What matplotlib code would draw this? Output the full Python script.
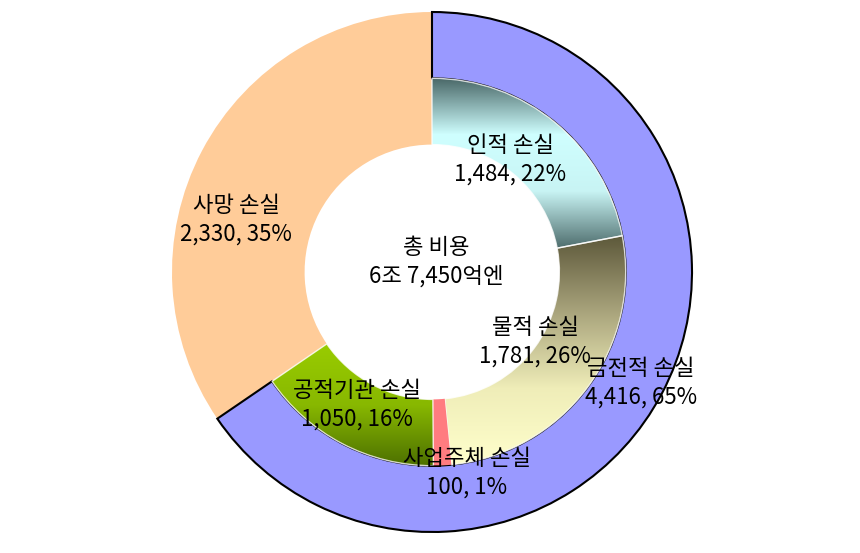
import numpy as np
import matplotlib.pyplot as plt
from matplotlib.colors import to_rgb

plt.rcParams['font.family'] = ['Noto Sans CJK KR', 'DejaVu Sans']

# outer ring
outer_labels = ['금전적 손실', '사망 손실']
outer_values = [4416, 2330]
outer_pcts = [65, 35]
# inner ring (breakdown of 금전적 손실)
inner_labels = ['인적 손실', '물적 손실', '사업주체 손실', '공적기관 손실']
inner_values = [1484, 1781, 100, 1050]
inner_pcts = [22, 26, 1, 16]
center_text = '총 비용\n6조 7,450억엔'

W, H = 860, 553
cx, cy, R = 432, 272, 260

fig = plt.figure(figsize=(W / 100, H / 100), dpi=100)
ax = fig.add_axes([0, 0, 1, 1])

r_hole = 0.49
r_mid = 0.745

# outer pie
wo, _ = ax.pie(outer_values, colors=['#9999FF', '#FFCC99'], startangle=90,
               counterclock=False, radius=1, frame=True,
               wedgeprops=dict(width=1 - r_hole, linewidth=0))
wo[0].set_width(1 - r_mid)
wo[0].set_edgecolor('black')
wo[0].set_linewidth(1.5)
wo[0].set_zorder(2)
wo[1].set_zorder(1)

# inner pie (last slice is empty space under 사망 손실)
wi, _ = ax.pie(inner_values + [outer_values[1]], startangle=90,
               counterclock=False, radius=r_mid, frame=True,
               colors=['none'] * 5,
               wedgeprops=dict(width=r_mid - r_hole, linewidth=0))
wi[4].set_visible(False)

# gradient fills (top -> bottom stops)
grads = [
    ['#4a6868', '#cfffff', '#c8f4f4', '#4f6e6e'],
    ['#5c583a', '#a9a47c', '#efedb8', '#ffffcc'],
    None,
    ['#99cc00', '#88b800', '#4d7000'],
]
for w, g in zip(wi[:4], grads):
    w.set_zorder(3)
    if g is None:
        w.set_facecolor('#ff7c80')
        w.set_edgecolor('none')
        continue
    w.set_edgecolor((1, 1, 1, 0.8))
    w.set_linewidth(1.0)
    th1, th2 = np.deg2rad(w.theta1), np.deg2rad(w.theta2)
    ths = np.linspace(th1, th2, 200)
    xo, yo = r_mid * np.cos(ths), r_mid * np.sin(ths)
    xi, yi = r_hole * np.cos(ths[::-1]), r_hole * np.sin(ths[::-1])
    xs = np.concatenate([xo, xi])
    ys = np.concatenate([yo, yi])
    n = 256
    stops = np.array([to_rgb(c) for c in g])
    pos = np.linspace(0, 1, len(stops))
    t = np.linspace(0, 1, n)
    img = np.stack([np.interp(t, pos, stops[:, k]) for k in range(3)], axis=1)
    img = img[:, None, :]
    im = ax.imshow(img, extent=[xs.min(), xs.max(), ys.min(), ys.max()],
                   aspect='auto', origin='upper', zorder=2.5)
    clip = plt.Polygon(np.column_stack([xs, ys]), closed=True,
                       facecolor='none', edgecolor='none')
    ax.add_patch(clip)
    im.set_clip_path(clip)
    w.set_facecolor('none')

ax.set_xlim(-cx / R, (W - cx) / R)
ax.set_ylim(-(H - cy) / R, cy / R)
ax.set_aspect('equal')
ax.axis('off')


def px(x, y):
    return (x - cx) / R, (cy - y) / R


fs = 16
label_pos = {
    '인적 손실': (510, 160),
    '물적 손실': (535, 342),
    '사업주체 손실': (467, 473),
    '공적기관 손실': (357, 405),
    '금전적 손실': (641, 383),
    '사망 손실': (236, 220),
}
for lab, v, p in zip(outer_labels + inner_labels, outer_values + inner_values,
                     outer_pcts + inner_pcts):
    x, y = px(*label_pos[lab])
    ax.text(x, y, f'{lab}\n{v:,}, {p}%', ha='center', va='center', fontsize=fs,
            linespacing=1.32, zorder=10)

x, y = px(436, 262)
ax.text(x, y, center_text, ha='center', va='center', fontsize=fs, linespacing=1.32, zorder=10)

fig.savefig('out.png', dpi=100)
